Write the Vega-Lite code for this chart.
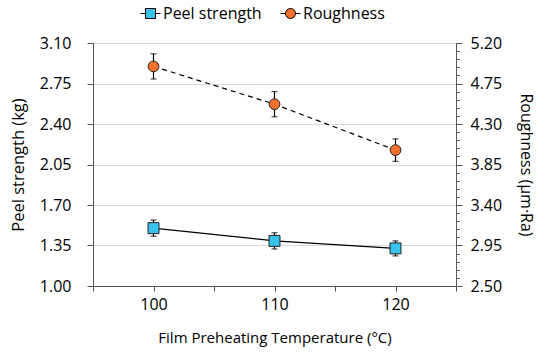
{
  "$schema": "https://vega.github.io/schema/vega-lite/v6.json",
  "width": 363,
  "height": 243,
  "autosize": {"type": "none"},
  "padding": {"left": 93, "top": 43, "right": 94, "bottom": 70},
  "background": "white",
  "config": {
    "font": "Open Sans",
    "view": {"stroke": "#555555", "strokeWidth": 1},
    "axis": {
      "domainColor": "#555555",
      "tickColor": "#555555",
      "labelColor": "black",
      "titleColor": "black",
      "labelFont": "Open Sans",
      "titleFont": "Open Sans",
      "labelFontSize": 16,
      "titleFontSize": 15,
      "titleFontWeight": "normal",
      "gridColor": "#dadada"
    },
    "legend": {"labelFont": "Open Sans", "labelFontSize": 16, "labelColor": "black"}
  },
  "data": {
    "values": [
      {"temp": 100, "peel": 1.50, "peel_lo": 1.43, "peel_hi": 1.57, "rough": 4.94, "rough_lo": 4.80, "rough_hi": 5.08},
      {"temp": 110, "peel": 1.39, "peel_lo": 1.32, "peel_hi": 1.46, "rough": 4.52, "rough_lo": 4.38, "rough_hi": 4.66},
      {"temp": 120, "peel": 1.325, "peel_lo": 1.26, "peel_hi": 1.39, "rough": 4.01, "rough_lo": 3.885, "rough_hi": 4.135}
    ]
  },
  "encoding": {
    "x": {
      "field": "temp",
      "type": "quantitative",
      "scale": {"domain": [95, 125], "nice": false, "zero": false},
      "axis": {
        "title": "Film Preheating Temperature (°C)",
        "values": [95, 100, 105, 110, 115, 120, 125],
        "labelExpr": "datum.value == 100 || datum.value == 110 || datum.value == 120 ? datum.label : ''",
        "grid": false,
        "tickSize": 5,
        "labelPadding": 5,
        "titlePadding": 18
      }
    }
  },
  "layer": [
    {
      "layer": [
        {
          "mark": {"type": "line", "color": "black", "strokeWidth": 1.2},
          "encoding": {
            "y": {
              "field": "peel",
              "type": "quantitative",
              "scale": {"domain": [1.0, 3.1], "nice": false, "zero": false},
              "axis": {
                "title": "Peel strength (kg)",
                "titleFontSize": 16.5,
                "values": [1.0, 1.35, 1.7, 2.05, 2.4, 2.75, 3.1],
                "format": ".2f",
                "grid": true,
                "tickSize": 6,
                "labelPadding": 16,
                "titlePadding": 13
              }
            }
          }
        },
        {
          "mark": {"type": "rule", "color": "black", "strokeWidth": 1.2},
          "encoding": {
            "y": {"field": "peel_lo", "type": "quantitative", "scale": {"domain": [1.0, 3.1], "nice": false, "zero": false}, "axis": null},
            "y2": {"field": "peel_hi"}
          }
        },
        {
          "mark": {"type": "tick", "orient": "horizontal", "color": "black", "size": 6, "thickness": 1.2},
          "encoding": {
            "y": {"field": "peel_lo", "type": "quantitative", "scale": {"domain": [1.0, 3.1], "nice": false, "zero": false}, "axis": null}
          }
        },
        {
          "mark": {"type": "tick", "orient": "horizontal", "color": "black", "size": 6, "thickness": 1.2},
          "encoding": {
            "y": {"field": "peel_hi", "type": "quantitative", "scale": {"domain": [1.0, 3.1], "nice": false, "zero": false}, "axis": null}
          }
        },
        {
          "mark": {"type": "point", "shape": "square", "filled": true, "size": 120, "stroke": "#222222", "strokeWidth": 1, "opacity": 1},
          "encoding": {
            "y": {
              "field": "peel",
              "type": "quantitative",
              "scale": {"domain": [1.0, 3.1], "nice": false, "zero": false},
              "axis": {
                "title": null,
                "values": [1.07, 1.14, 1.21, 1.28, 1.42, 1.49, 1.56, 1.63, 1.77, 1.84, 1.91, 1.98, 2.12, 2.19, 2.26, 2.33, 2.47, 2.54, 2.61, 2.68, 2.82, 2.89, 2.96, 3.03],
                "labels": false,
                "domain": false,
                "grid": false,
                "tickSize": 3
              }
            },
            "color": {
              "datum": "Peel strength",
              "type": "nominal",
              "scale": {"domain": ["Peel strength"], "range": ["#38c2ec"]},
              "legend": {
                "title": null,
                "orient": "none",
                "legendX": 47,
                "legendY": -40,
                "symbolSize": 400,
                "symbolType": "M-1,0H-0.5M0.5,0H1M-0.5,-0.5H0.5V0.5H-0.5Z",
                "symbolStrokeColor": "black",
                "symbolStrokeWidth": 1,
                "labelOffset": 2
              }
            }
          }
        }
      ],
      "resolve": {"axis": {"y": "independent"}}
    },
    {
      "layer": [
        {
          "mark": {"type": "line", "color": "black", "strokeWidth": 1.2, "strokeDash": [5, 4]},
          "encoding": {
            "y": {
              "field": "rough",
              "type": "quantitative",
              "scale": {"domain": [2.5, 5.2], "nice": false, "zero": false},
              "axis": {
                "orient": "right",
                "title": "Roughness (µm·Ra)",
                "titleFontSize": 16,
                "values": [2.5, 2.95, 3.4, 3.85, 4.3, 4.75, 5.2],
                "format": ".2f",
                "grid": false,
                "tickSize": 6,
                "labelPadding": 8,
                "titlePadding": 16
              }
            }
          }
        },
        {
          "mark": {"type": "rule", "color": "black", "strokeWidth": 1.2},
          "encoding": {
            "y": {"field": "rough_lo", "type": "quantitative", "scale": {"domain": [2.5, 5.2], "nice": false, "zero": false}, "axis": null},
            "y2": {"field": "rough_hi"}
          }
        },
        {
          "mark": {"type": "tick", "orient": "horizontal", "color": "black", "size": 6, "thickness": 1.2},
          "encoding": {
            "y": {"field": "rough_lo", "type": "quantitative", "scale": {"domain": [2.5, 5.2], "nice": false, "zero": false}, "axis": null}
          }
        },
        {
          "mark": {"type": "tick", "orient": "horizontal", "color": "black", "size": 6, "thickness": 1.2},
          "encoding": {
            "y": {"field": "rough_hi", "type": "quantitative", "scale": {"domain": [2.5, 5.2], "nice": false, "zero": false}, "axis": null}
          }
        },
        {
          "mark": {"type": "point", "shape": "circle", "filled": true, "size": 115, "stroke": "#222222", "strokeWidth": 1, "opacity": 1},
          "encoding": {
            "y": {
              "field": "rough",
              "type": "quantitative",
              "scale": {"domain": [2.5, 5.2], "nice": false, "zero": false},
              "axis": {
                "orient": "right",
                "title": null,
                "values": [2.59, 2.68, 2.77, 2.86, 3.04, 3.13, 3.22, 3.31, 3.49, 3.58, 3.67, 3.76, 3.94, 4.03, 4.12, 4.21, 4.39, 4.48, 4.57, 4.66, 4.84, 4.93, 5.02, 5.11],
                "labels": false,
                "domain": false,
                "grid": false,
                "tickSize": 3
              }
            },
            "fill": {
              "datum": "Roughness",
              "type": "nominal",
              "scale": {"domain": ["Roughness"], "range": ["#f4702c"]},
              "legend": {
                "title": null,
                "orient": "none",
                "legendX": 187,
                "legendY": -40,
                "symbolSize": 400,
                "symbolType": "M-1,0H-0.5M0.5,0H1M-0.5,0A0.5,0.5,0,1,1,0.5,0A0.5,0.5,0,1,1,-0.5,0Z",
                "symbolStrokeColor": "black",
                "symbolStrokeWidth": 1,
                "labelOffset": 2
              }
            }
          }
        }
      ],
      "resolve": {"axis": {"y": "independent"}}
    }
  ],
  "resolve": {"scale": {"y": "independent"}}
}
